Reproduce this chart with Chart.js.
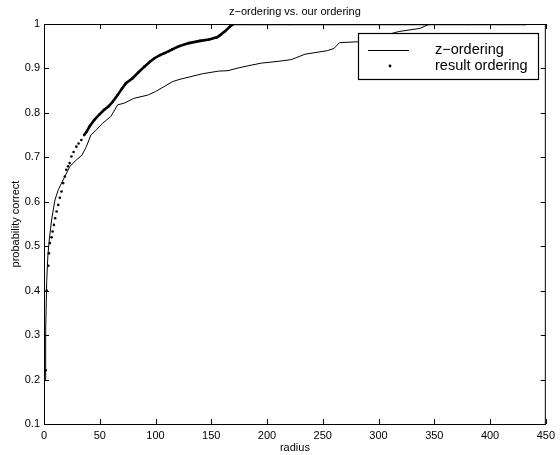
<!DOCTYPE html>
<html>
<head>
<meta charset="utf-8">
<script src="https://cdn.jsdelivr.net/npm/chart.js@4.4.1/dist/chart.umd.min.js"></script>
<style>
  html, body { margin: 0; padding: 0; background: #fff; }
  #myChart { display: block; }
</style>
</head>
<body>
<canvas id="myChart" width="560" height="455"></canvas>
<script>
// values
var zRadius = [1, 1.5, 2.4, 3.5, 4.7, 6.8, 9.8, 12.8, 18.7, 23, 29, 34, 38, 42, 47, 52.7, 60, 66, 72, 81, 93, 100, 107.6, 115, 121, 142, 156.5, 165, 174, 183, 195, 210, 222, 234, 254, 260, 265, 281, 300, 318, 337, 346, 432];
var zProb = [0.2, 0.31, 0.42, 0.48, 0.514, 0.559, 0.604, 0.627, 0.657, 0.679, 0.694, 0.705, 0.724, 0.75, 0.762, 0.777, 0.792, 0.818, 0.822, 0.833, 0.84, 0.848, 0.859, 0.87, 0.875, 0.888, 0.894, 0.895, 0.901, 0.906, 0.912, 0.916, 0.92, 0.932, 0.94, 0.945, 0.958, 0.96, 0.97, 0.983, 0.99, 1.0, 1.0];

var rRadius = [1.5, 2.4, 3.9, 4.4, 5.3, 6.8, 7.7, 8.9, 10, 11.3, 12.8, 14.2, 15.7, 17.2, 18.7, 20, 21.5, 23, 24.6, 26.5, 29, 31, 33.5, 36, 38, 41, 45, 50, 54, 58, 61.6, 66, 70, 73.5, 79.4, 85, 90, 95, 99, 104, 107.6, 112, 115, 121, 130, 140, 148, 155, 158, 162.5, 167, 170, 190, 220, 260, 300, 340, 380, 410, 432];
var rProb = [0.221, 0.4, 0.456, 0.484, 0.507, 0.52, 0.533, 0.548, 0.563, 0.578, 0.593, 0.609, 0.623, 0.642, 0.657, 0.672, 0.68, 0.687, 0.702, 0.712, 0.724, 0.731, 0.739, 0.75, 0.757, 0.77, 0.784, 0.797, 0.807, 0.815, 0.825, 0.84, 0.855, 0.867, 0.878, 0.892, 0.904, 0.915, 0.923, 0.93, 0.934, 0.939, 0.943, 0.95, 0.957, 0.962, 0.965, 0.97, 0.975, 0.984, 0.995, 1.0, 1.0, 1.0, 1.0, 1.0, 1.0, 1.0, 1.0, 1.0];

var xTicks = [0, 50, 100, 150, 200, 250, 300, 350, 400, 450];
var yTicks = [0.1, 0.2, 0.3, 0.4, 0.5, 0.6, 0.7, 0.8, 0.9, 1];

var titleText = 'z\u2212ordering vs. our ordering';
var legendNames = ['z\u2212ordering', 'result ordering'];

var FONT = '"Liberation Sans", Arial, Helvetica, sans-serif';

var pairs = function(xs, ys){
    return xs.map(function(x, i){ return {x: x, y: ys[i]}; });
};

// box, inward ticks, titles and the legend box (matlab look)
var matlabFrame = {
    id: 'matlabFrame',
    afterDraw: function(chart){
        var c = chart.ctx, a = chart.chartArea;
        var xs = chart.scales.x, ys = chart.scales.y;
        c.save();
        c.strokeStyle = '#000';
        c.lineWidth = 1;
        c.strokeRect(a.left + 0.5, a.top + 0.5, a.right - a.left - 1, a.bottom - a.top);
        c.beginPath();
        xTicks.forEach(function(v){
            var px = Math.round(xs.getPixelForValue(v)) + 0.5;
            c.moveTo(px, a.bottom); c.lineTo(px, a.bottom - 5);
            c.moveTo(px, a.top); c.lineTo(px, a.top + 5);
        });
        yTicks.forEach(function(v){
            var py = Math.round(ys.getPixelForValue(v)) + 0.5;
            c.moveTo(a.left, py); c.lineTo(a.left + 5, py);
            c.moveTo(a.right, py); c.lineTo(a.right - 5, py);
        });
        c.stroke();

        c.fillStyle = '#000';
        c.font = '11px ' + FONT;
        c.textAlign = 'center';
        c.textBaseline = 'middle';
        c.fillText(titleText, (a.left + a.right) / 2, 12);
        c.fillText('radius', (a.left + a.right) / 2, 448);
        c.save();
        c.translate(16, (a.top + a.bottom) / 2);
        c.rotate(-Math.PI / 2);
        c.fillText('probability correct', 0, 0);
        c.restore();

        // legend
        var lx = 358.5, ly = 33.5, lw = 180, lh = 46;
        c.fillStyle = '#fff';
        c.fillRect(lx, ly, lw, lh);
        c.strokeStyle = '#000';
        c.lineWidth = 1.2;
        c.strokeRect(lx, ly, lw, lh);
        c.lineWidth = 1;
        c.beginPath();
        c.moveTo(368, 50.5); c.lineTo(409, 50.5);
        c.stroke();
        c.fillStyle = '#000';
        c.beginPath();
        c.arc(390, 66, 1.4, 0, Math.PI * 2);
        c.fill();
        c.font = '14.5px ' + FONT;
        c.textAlign = 'left';
        c.fillText(legendNames[0], 435, 50);
        c.fillText(legendNames[1], 435, 65.5);
        c.restore();
    }
};

var ctx = document.getElementById('myChart').getContext('2d');
var chart = new Chart(ctx, {
    type: 'scatter',
    data: {
        datasets: [{
            label: legendNames[0],
            data: pairs(zRadius, zProb),
            showLine: true,
            borderColor: '#000',
            borderWidth: 1,
            pointRadius: 0,
            tension: 0
        }, {
            label: legendNames[1],
            data: pairs(rRadius, rProb),
            showLine: true,
            borderColor: '#000',
            borderWidth: 2.6,
            pointRadius: 1.3,
            pointBackgroundColor: '#000',
            pointBorderWidth: 0,
            segment: {
                // sparse part of the curve shows as separate dots
                borderColor: function(s){ return s.p0.parsed.x < 36 ? 'rgba(0,0,0,0)' : '#000'; }
            }
        }]
    },
    options: {
        responsive: false,
        animation: false,
        layout: { padding: { top: 24, right: 10, left: 0, bottom: 0 } },
        plugins: {
            legend: { display: false },
            title: { display: false },
            tooltip: { enabled: false }
        },
        scales: {
            x: {
                type: 'linear',
                min: 0, max: 450,
                grid: { display: false, drawTicks: false },
                border: { display: false },
                ticks: {
                    stepSize: 50,
                    padding: 5,
                    color: '#000',
                    font: { family: FONT, size: 11 },
                    maxRotation: 0
                },
                afterFit: function(s){ s.height = 31; }
            },
            y: {
                min: 0.1, max: 1,
                grid: { display: false, drawTicks: false },
                border: { display: false },
                ticks: {
                    stepSize: 0.1,
                    padding: 4,
                    color: '#000',
                    font: { family: FONT, size: 11 },
                    callback: function(v){ return String(+v.toFixed(1)); }
                },
                afterFit: function(s){ s.width = 44; }
            }
        }
    },
    plugins: [matlabFrame]
});
</script>
</body>
</html>
